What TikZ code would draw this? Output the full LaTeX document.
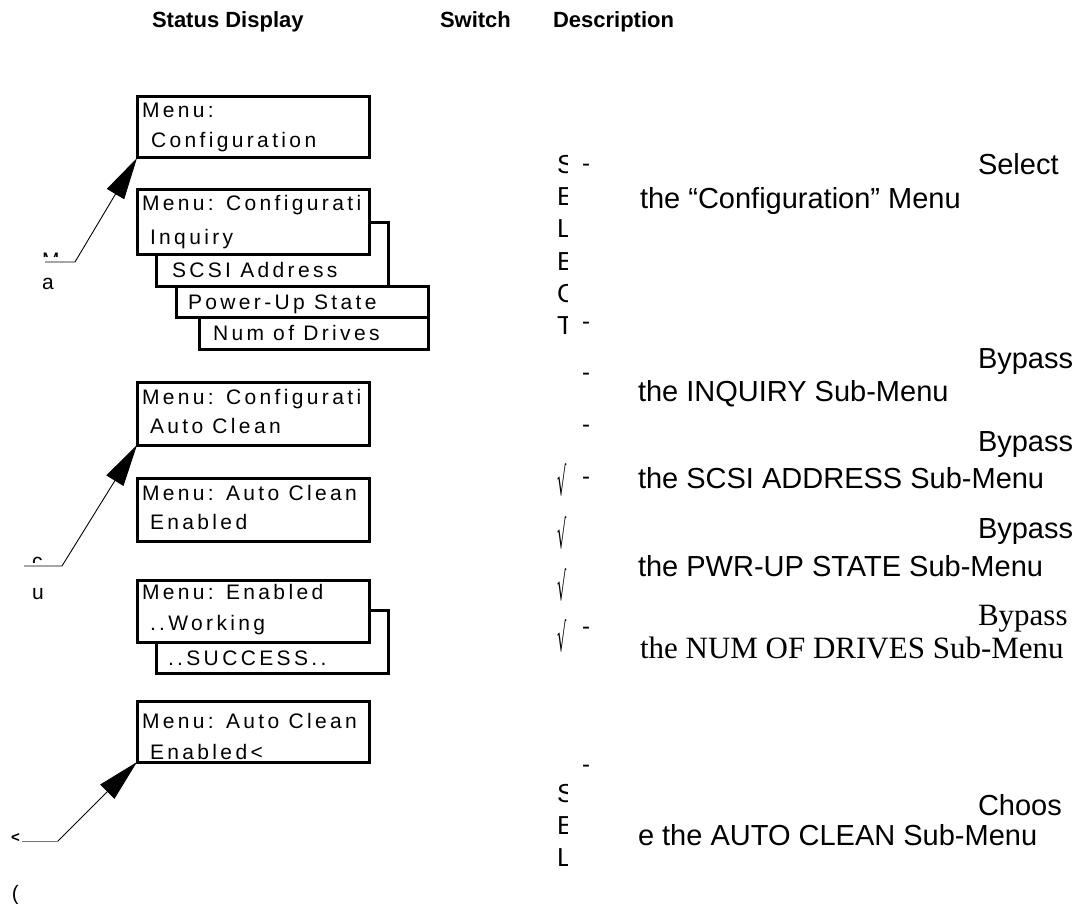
\documentclass[tikz,border=0pt]{standalone}
\usepackage{fontspec}
\usepackage{graphicx}
\setmainfont{Liberation Sans}
\newfontfamily\lcdfont[LetterSpace=16]{Liberation Sans}
\newfontfamily\tnrfont{Liberation Serif}
\newfontfamily\dvsfont{DejaVu Sans}
\usetikzlibrary{arrows.meta}
\tikzset{
  every node/.style={inner sep=0pt, outer sep=0pt},
  lcdbox/.style={draw, line width=3pt, fill=white, anchor=north west},
  lcdtxt/.style={font=\lcdfont\fontsize{21}{24}\selectfont, anchor=base west},
  hdr/.style={font=\bfseries\fontsize{22}{26}\selectfont, anchor=base west},
  desc/.style={font=\fontsize{29}{34}\selectfont, anchor=base west},
  descserif/.style={font=\tnrfont\fontsize{31}{36}\selectfont, anchor=base west},
  side/.style={font=\fontsize{21}{24}\selectfont, anchor=base west},
  col/.style={font=\fontsize{26}{30}\selectfont, anchor=base west},
  chk/.style={font=\dvsfont\fontsize{29}{32}\selectfont, anchor=base west},
  dashmark/.style={font=\fontsize{24}{26}\selectfont, anchor=base west},
  arr/.style={line width=0.9pt, -{Triangle[length=42pt,width=20pt]}},
}
\begin{document}
\begin{tikzpicture}[x=1pt,y=-1pt]
\useasboundingbox (0,0) rectangle (1090,904);

% headers
\node[hdr] (h1) at (152,28) {Status Display};
\node[hdr] (h2) at (440,28) {Switch};
\node[hdr] (h3) at (553,28) {Description};

% box 1
\node[lcdbox, minimum width=232pt, minimum height=61pt] (b1) at (137,97) {};
\node[lcdtxt] (b1t1) at (142,118) {Menu:};
\node[lcdtxt] (b1t2) at (151,148) {Configuration};

% stacked boxes
\node[lcdbox, minimum width=229pt, minimum height=32pt] (bnum) at (199,317) {};
\node[lcdbox, minimum width=252pt, minimum height=31pt] (bpwr) at (176,286) {};
\node[lcdbox, minimum width=232pt, minimum height=63pt] (bscsi) at (156,223) {};
\node[lcdbox, minimum width=232pt, minimum height=65pt] (b2) at (137,190) {};
\node[lcdtxt] (b2t1) at (142,211) {Menu: Configurati};
\node[lcdtxt] (b2t2) at (150,245) {Inquiry};
\node[lcdtxt] (bscsit) at (172,277) {SCSI Address};
\node[lcdtxt] (bpwrt) at (188,309) {Power-Up State};
\node[lcdtxt] (bnumt) at (213,340) {Num of Drives};

% box 3
\node[lcdbox, minimum width=232pt, minimum height=63pt] (b3) at (137,382) {};
\node[lcdtxt] (b3t1) at (142,404) {Menu: Configurati};
\node[lcdtxt] (b3t2) at (150,433) {Auto Clean};

% box 4
\node[lcdbox, minimum width=232pt, minimum height=63pt] (b4) at (137,478) {};
\node[lcdtxt] (b4t1) at (142,500) {Menu: Auto Clean};
\node[lcdtxt] (b4t2) at (150,529) {Enabled};

% box 5 with success
\node[lcdbox, minimum width=232pt, minimum height=63pt] (bsucc) at (156,610) {};
\node[lcdbox, minimum width=232pt, minimum height=62pt] (b5) at (137,580) {};
\node[lcdtxt] (b5t1) at (142,599) {Menu: Enabled};
\node[lcdtxt] (b5t2) at (150,630) {..Working};
\node[lcdtxt] (bsucct) at (168,665) {..SUCCESS..};

% box 6
\node[lcdbox, minimum width=232pt, minimum height=61pt] (b6) at (137,701) {};
\node[lcdtxt] (b6t1) at (142,728) {Menu: Auto Clean};
\node[lcdtxt] (b6t2) at (150,759) {Enabled<};

% arrows
\coordinate (a1s) at (45,262);
\coordinate (a1k) at (75,262);
\draw[arr] (a1s) -- (a1k) -- (b1.south west);
\coordinate (a2s) at (24,566);
\coordinate (a2k) at (62,566);
\draw[arr] (a2s) -- (a2k) -- (b3.south west);
\coordinate (a3s) at (22,841);
\coordinate (a3k) at (58,841);
\draw[line width=0.9pt, black!55] (a3s) -- (a3k);
\draw[arr] (a3k) -- (b6.south west);

% left side labels
\begin{scope}
\clip (30,240) rectangle (75,257);
\node[side] (lm) at (42,268) {M};
\end{scope}
\node[side] (la) at (42,289) {a};
\begin{scope}
\clip (25,550) rectangle (60,562);
\node[side] (lc) at (32,568) {c};
\end{scope}
\node[side] (lu) at (32,599) {u};
\node[font=\bfseries\fontsize{15}{16}\selectfont, anchor=base west] (llt) at (11,842) {<};
\node[side] (lp) at (12,900) {(};

% middle column letters (clipped)
\begin{scope}
\clip (550,140) rectangle (567,360);
\node[col] (m1) at (557,174) {S};
\node[col] (m2) at (557,206) {E};
\node[col] (m3) at (557,238) {L};
\node[col] (m4) at (557,270) {E};
\node[col] (m5) at (557,302) {C};
\node[col] (m6) at (557,334) {T};
\end{scope}
\begin{scope}
\clip (550,775) rectangle (567,904);
\node[col] (m7) at (557,802) {S};
\node[col] (m8) at (557,834) {E};
\node[col] (m9) at (557,866) {L};
\end{scope}
\node[chk] (v1) at (557,495) {\scalebox{0.5}[1.35]{√}};
\node[chk] (v2) at (557,548) {\scalebox{0.5}[1.35]{√}};
\node[chk] (v3) at (557,600) {\scalebox{0.5}[1.35]{√}};
\node[chk] (v4) at (557,651) {\scalebox{0.5}[1.35]{√}};

% dashes
\node[dashmark] (d1) at (582,172) {-};
\node[dashmark] (d2) at (582,329) {-};
\node[dashmark] (d3) at (582,380) {-};
\node[dashmark] (d4) at (582,432) {-};
\node[dashmark] (d5) at (582,484) {-};
\node[dashmark] (d6) at (582,634) {-};
\node[dashmark] (d7) at (582,772) {-};

% descriptions
\node[desc] (s1) at (978,175) {Select};
\node[desc] (s2) at (640,209) {the “Configuration” Menu};
\node[desc] (p1) at (978,368) {Bypass};
\node[desc] (p2) at (638,401) {the INQUIRY Sub-Menu};
\node[desc] (q1) at (978,451) {Bypass};
\node[desc] (q2) at (638,488) {the SCSI ADDRESS Sub-Menu};
\node[desc] (r1) at (978,538) {Bypass};
\node[desc] (r2) at (638,576) {the PWR-UP STATE Sub-Menu};
\node[descserif] (t1) at (978,625) {Bypass};
\node[descserif] (t2) at (640,658) {the NUM OF DRIVES Sub-Menu};
\node[desc] (c1) at (978,815) {Choos};
\node[desc] (c2) at (638,845) {e the AUTO CLEAN Sub-Menu};
\end{tikzpicture}
\end{document}
